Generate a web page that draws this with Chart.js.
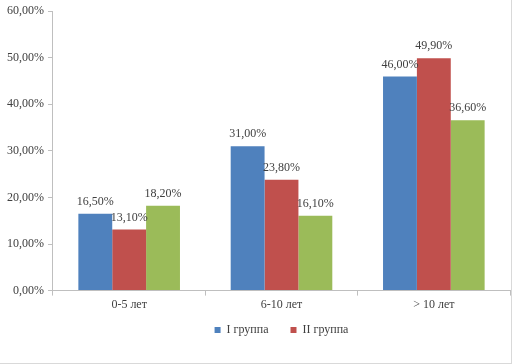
<!DOCTYPE html>
<html><head><meta charset="utf-8">
<script src="https://cdn.jsdelivr.net/npm/chart.js@4"></script>
<style>html,body{margin:0;padding:0;background:#fff}#wrap{position:relative;width:512px;height:364px;box-sizing:border-box;border-right:1px solid #d9d9d9;border-bottom:1px solid #d9d9d9}</style>
</head><body><div id="wrap"><canvas id="c" width="511" height="363"></canvas></div>
<script>
const categories = ["0-5 лет", "6-10 лет", "> 10 лет"];
const seriesNames = ["I группа", "II группа", ""];
const group1 = [16.5, 31.0, 46.0];
const group2 = [13.1, 23.8, 49.9];
const group3 = [18.2, 16.1, 36.6];
const yTicks = [0, 10, 20, 30, 40, 50, 60];

const fmt = v => v.toFixed(2).replace('.', ',') + '%';
const FONT = "'Liberation Serif', 'Times New Roman', serif";

const labelPlugin = {
  id: 'vlabels',
  afterDatasetsDraw(chart) {
    const ctx = chart.ctx;
    ctx.save();
    ctx.font = "12px " + FONT;
    ctx.fillStyle = '#404040';
    ctx.textAlign = 'center';
    ctx.textBaseline = 'bottom';
    chart.data.datasets.forEach((ds, i) => {
      chart.getDatasetMeta(i).data.forEach((bar, j) => {
        ctx.fillText(fmt(ds.data[j]), bar.x, bar.y - 6);
      });
    });
    ctx.restore();
  }
};

new Chart(document.getElementById('c'), {
  type: 'bar',
  data: {
    labels: categories,
    datasets: [
      { label: seriesNames[0], data: group1, backgroundColor: '#4F81BD', borderWidth: 0 },
      { label: seriesNames[1], data: group2, backgroundColor: '#C0504D', borderWidth: 0 },
      { label: seriesNames[2], data: group3, backgroundColor: '#9BBB59', borderWidth: 0 }
    ]
  },
  options: {
    responsive: false,
    animation: false,
    devicePixelRatio: 1,
    layout: { padding: { left: 3, right: 1, top: 10, bottom: 17 } },
    datasets: { bar: { categoryPercentage: 0.667, barPercentage: 1.0 } },
    scales: {
      x: {
        grid: { drawOnChartArea: false, drawTicks: true, tickLength: 5, color: '#bfbfbf' },
        border: { color: '#bfbfbf' },
        ticks: { color: '#404040', font: { family: FONT, size: 12 }, padding: 2 }
      },
      y: {
        min: 0, max: 60,
        afterBuildTicks: s => { s.ticks = yTicks.map(v => ({ value: v })); },
        grid: { drawOnChartArea: false, drawTicks: true, tickLength: 5, color: '#bfbfbf' },
        border: { color: '#bfbfbf' },
        ticks: { color: '#404040', font: { family: FONT, size: 12 }, padding: 4, callback: v => fmt(v) }
      }
    },
    plugins: {
      legend: {
        position: 'bottom',
        fullSize: false,
        labels: {
          filter: item => item.datasetIndex < 2,
          generateLabels: chart => {
            const items = Chart.defaults.plugins.legend.labels.generateLabels(chart);
            items.forEach((it, k) => { if (k === 0) it.text = it.text + '    '; });
            return items;
          },
          boxWidth: 6, boxHeight: 6, padding: 10,
          color: '#404040', font: { family: FONT, size: 12 }
        }
      },
      tooltip: { enabled: false }
    }
  },
  plugins: [labelPlugin]
});
</script></body></html>
